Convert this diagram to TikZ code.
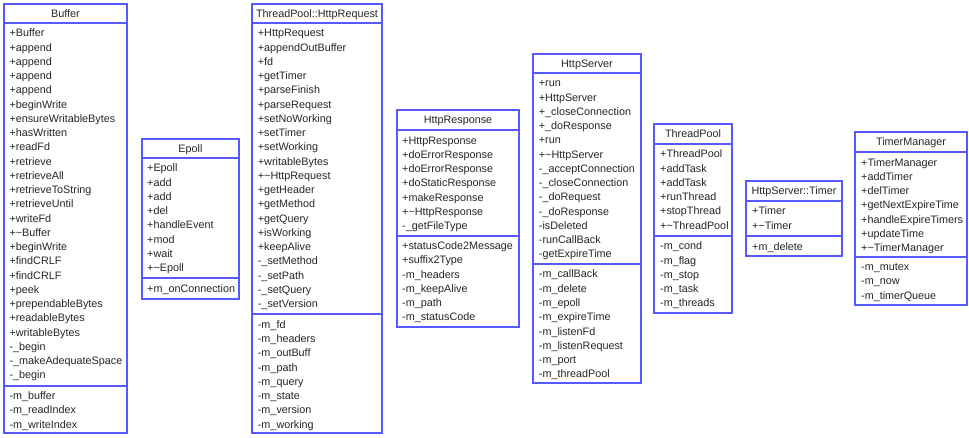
\documentclass[tikz,border=0pt]{standalone}
\usepackage{fontspec}
\setmainfont{Liberation Sans}
\definecolor{umlblue}{RGB}{88,88,255}
\newcommand{\umltilde}{\textasciitilde}
\tikzset{
  classbox/.style={draw=umlblue, line width=1.8pt, fill=white, inner sep=0pt, outer sep=0pt},
  classline/.style={draw=umlblue, line width=1.8pt},
  umltext/.style={inner sep=0pt, font=\fontsize{10.8pt}{13pt}\selectfont, text=black!85},
  titletext/.style={umltext, text height=7.8pt, text depth=0pt, anchor=center},
  rowtext/.style={umltext, anchor=base west},
}
% #1 name, #2 xl, #3 xr, #4 top, #5 sep1, #6 sep2, #7 bottom, #8 title
\newcommand{\umlbox}[8]{%
  \node[classbox, minimum width={(#3-#2)*1pt}, minimum height={(#7-#4)*1pt}] (#1) at ({(#2+#3)/2},{(#4+#7)/2}) {};
  \draw[classline] (#1.west |- 0,#5) -- (#1.east |- 0,#5);
  \draw[classline] (#1.west |- 0,#6) -- (#1.east |- 0,#6);
  \node[titletext] (#1-title) at ({(#2+#3)/2},{(#4+#5)/2}) {#8};
}
% #1 name prefix, #2 x, #3 first baseline, #4 list
\newcommand{\umlrows}[4]{%
  \foreach \txt [count=\i] in {#4} {\node[rowtext] (#1\i) at (#2,{#3+(\i-1)*14.25}) {\txt};}
}
\begin{document}
\begin{tikzpicture}[x=1pt,y=-1pt]
\useasboundingbox (0,0) rectangle (969,438);
\fill[white] (0,0) rectangle (969,438);

% Buffer
\umlbox{buffer}{4}{127}{4}{23}{386}{433}{Buffer}
\umlrows{bufm}{9.3}{36.9}{+Buffer,+append,+append,+append,+append,+beginWrite,+ensureWritableBytes,+hasWritten,+readFd,+retrieve,+retrieveAll,+retrieveToString,+retrieveUntil,+writeFd,+\umltilde Buffer,+beginWrite,+findCRLF,+findCRLF,+peek,+prependableBytes,+readableBytes,+writableBytes,-\_begin,-\_makeAdequateSpace,-\_begin}
\umlrows{bufa}{9.3}{399.7}{-m\_buffer,-m\_readIndex,-m\_writeIndex}

% Epoll
\umlbox{epoll}{142}{239}{139}{158}{278}{299}{Epoll}
\umlrows{epm}{147}{171.9}{+Epoll,+add,+add,+del,+handleEvent,+mod,+wait,+\umltilde Epoll}
\umlrows{epa}{147}{292.3}{+m\_onConnection}

% HttpRequest
\umlbox{request}{252}{382}{4}{23}{314}{433}{ThreadPool::HttpRequest}
\umlrows{reqm}{257.7}{36.9}{+HttpRequest,+appendOutBuffer,+fd,+getTimer,+parseFinish,+parseRequest,+setNoWorking,+setTimer,+setWorking,+writableBytes,+\umltilde HttpRequest,+getHeader,+getMethod,+getQuery,+isWorking,+keepAlive,-\_setMethod,-\_setPath,-\_setQuery,-\_setVersion}
\umlrows{reqa}{257.7}{328.3}{-m\_fd,-m\_headers,-m\_outBuff,-m\_path,-m\_query,-m\_state,-m\_version,-m\_working}

% HttpResponse
\umlbox{response}{397}{519}{110}{130}{236}{327}{HttpResponse}
\umlrows{resm}{402}{144.2}{+HttpResponse,+doErrorResponse,+doErrorResponse,+doStaticResponse,+makeResponse,+\umltilde HttpResponse,-\_getFileType}
\umlrows{resa}{402}{249.7}{+statusCode2Message,+suffix2Type,-m\_headers,-m\_keepAlive,-m\_path,-m\_statusCode}

% HttpServer
\umlbox{server}{533}{641}{54}{73}{264}{383}{HttpServer}
\umlrows{srvm}{538.7}{86.9}{+run,+HttpServer,+\_closeConnection,+\_doResponse,+run,+\umltilde HttpServer,-\_acceptConnection,-\_closeConnection,-\_doRequest,-\_doResponse,-isDeleted,-runCallBack,-getExpireTime}
\umlrows{srva}{538.7}{278}{-m\_callBack,-m\_delete,-m\_epoll,-m\_expireTime,-m\_listenFd,-m\_listenRequest,-m\_port,-m\_threadPool}

% ThreadPool
\umlbox{pool}{654}{732}{124}{144}{236}{313}{ThreadPool}
\umlrows{poolm}{660}{157.9}{+ThreadPool,+addTask,+addTask,+runThread,+stopThread,+\umltilde ThreadPool}
\umlrows{poola}{660}{250}{-m\_cond,-m\_flag,-m\_stop,-m\_task,-m\_threads}

% HttpServer::Timer
\umlbox{timer}{746}{842}{181}{201}{236}{256}{HttpServer::Timer}
\umlrows{timm}{752}{214.9}{+Timer,+\umltilde Timer}
\umlrows{tima}{752}{250.3}{+m\_delete}

% TimerManager
\umlbox{manager}{855}{967}{132}{152}{257}{305}{TimerManager}
\umlrows{manm}{861}{166.2}{+TimerManager,+addTimer,+delTimer,+getNextExpireTime,+handleExpireTimers,+updateTime,+\umltilde TimerManager}
\umlrows{mana}{861}{270.7}{-m\_mutex,-m\_now,-m\_timerQueue}
\end{tikzpicture}
\end{document}
